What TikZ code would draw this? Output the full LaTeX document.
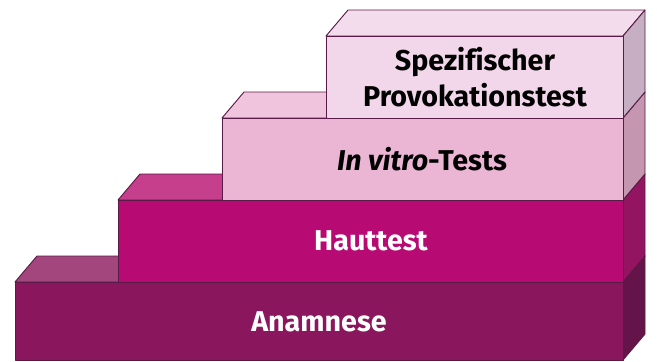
\documentclass[tikz,border=0pt]{standalone}
\usepackage{fontspec}
\setsansfont{Fira Sans}[Ligatures=CommonOff]
\usetikzlibrary{positioning}
\usepackage{xcolor}
\definecolor{rand}{HTML}{5A1A47}
\definecolor{anaF}{HTML}{8A175E}
\definecolor{anaT}{HTML}{A3467E}
\definecolor{anaS}{HTML}{651449}
\definecolor{hautF}{HTML}{B80A73}
\definecolor{hautT}{HTML}{C63F8C}
\definecolor{hautS}{HTML}{931460}
\definecolor{vitF}{HTML}{EAB6D4}
\definecolor{vitT}{HTML}{F0C4DD}
\definecolor{vitS}{HTML}{C496AF}
\definecolor{provF}{HTML}{F2D7EA}
\definecolor{provT}{HTML}{F3DDEC}
\definecolor{provS}{HTML}{C7AFC3}

\begin{document}
\begin{tikzpicture}[x=0.75pt,y=-0.75pt,line width=0.7pt,line join=round,
  stufentext/.style={font=\sffamily\bfseries\fontsize{21.5}{27.5}\selectfont,align=center}]
  \useasboundingbox (0,0) rectangle (657,361);
  % Anamnese (unterste Stufe)
  \coordinate (a1) at (15,282);
  \coordinate (a2) at (623,282);
  \coordinate (a3) at (623,360);
  \coordinate (a4) at (15,360);
  \fill[anaT,draw=rand] (a1)--++(22,-26)--++(608,0)--(a2)--cycle;
  \fill[anaS,draw=rand] (a2)--++(22,-26)--++(0,78)--(a3)--cycle;
  \fill[anaF,draw=rand] (a1)--(a2)--(a3)--(a4)--cycle;
  \node[stufentext,text=white] (anamnese) at (319,322) {Anamnese};
  % Hauttest
  \coordinate (h1) at (118,200);
  \coordinate (h2) at (623,200);
  \coordinate (h3) at (623,282);
  \coordinate (h4) at (118,282);
  \fill[hautT,draw=rand] (h1)--++(22,-26)--++(505,0)--(h2)--cycle;
  \fill[hautS,draw=rand] (h2)--++(22,-26)--++(0,82)--(h3)--cycle;
  \fill[hautF,draw=rand] (h1)--(h2)--(h3)--(h4)--cycle;
  \node[stufentext,text=white] (hauttest) at (371,241) {Hauttest};
  % In vitro-Tests
  \coordinate (v1) at (222,118);
  \coordinate (v2) at (623,118);
  \coordinate (v3) at (623,200);
  \coordinate (v4) at (222,200);
  \fill[vitT,draw=rand] (v1)--++(22,-26)--++(401,0)--(v2)--cycle;
  \fill[vitS,draw=rand] (v2)--++(22,-26)--++(0,82)--(v3)--cycle;
  \fill[vitF,draw=rand] (v1)--(v2)--(v3)--(v4)--cycle;
  \node[stufentext] (invitro) at (422,159) {\itshape In vitro\upshape-Tests};
  % Spezifischer Provokationstest (oberste Stufe)
  \coordinate (p1) at (326,36);
  \coordinate (p2) at (623,36);
  \coordinate (p3) at (623,118);
  \coordinate (p4) at (326,118);
  \fill[provT,draw=rand] (p1)--++(22,-26)--++(297,0)--(p2)--cycle;
  \fill[provS,draw=rand] (p2)--++(22,-26)--++(0,82)--(p3)--cycle;
  \fill[provF,draw=rand] (p1)--(p2)--(p3)--(p4)--cycle;
  \node[stufentext] (provokation) at (475,77) {Spezifischer\\Provokationstest};
\end{tikzpicture}
\end{document}
